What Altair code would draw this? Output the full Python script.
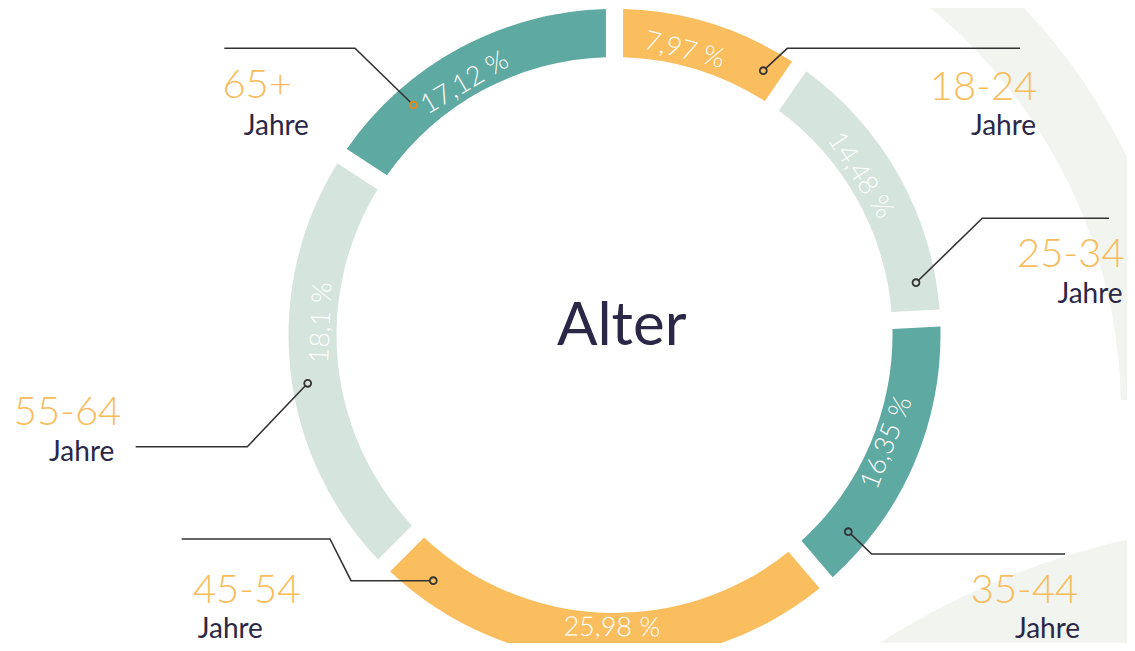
import math
import altair as alt
import pandas as pd

# ---------------- data ----------------
groups = ["18-24", "25-34", "35-44", "45-54", "55-64", "65+"]
pct_labels = ["7,97 %", "14,48 %", "16,35 %", "25,98 %", "18,1 %", "17,12 %"]
pct_values = [7.97, 14.48, 16.35, 25.98, 18.1, 17.12]
# angular extent (degrees) each segment occupies in the drawn ring
arc_share_deg = [34.5, 52.5, 52.5, 85.5, 78.3, 56.7]
# bearing (degrees, clockwise from top) where each percentage label sits
label_bearing = [13.8, 57.0, 111.6, 180.5, 272.4, 329.3]

# leader lines (page pixels): dot -> elbow(s) -> end
leader_x = [[763.3, 787.3, 1020], [916, 982.3, 1109], [848.3, 871.7, 1065],
            [433.3, 351, 330, 181.7], [307.7, 247.3, 135.7], [413.3, 355, 224.3]]
leader_y = [[70.7, 48.3, 48.3], [282.7, 218.3, 218.3], [531.7, 554, 554],
            [580.7, 580.7, 539, 539], [383.3, 446.7, 446.7], [105, 48.3, 48.3]]

# group name (centre x, baseline y) and "Jahre" (centre x, baseline y)
name_x = [983.5, 1070.8, 1024.5, 246.7, 67.5, 257.2]
name_y = [100, 267, 602.7, 603.3, 425, 98.3]
jahre_x = [1003.5, 1090, 1047.5, 230.3, 81.7, 276.3]
jahre_y = [135, 302.7, 638, 638, 460.7, 135]
jahre_text = "Jahre"
center_title = "Alter"

# ---------------- style ----------------
W, H, M = 1119, 635, 8
CX, CY = 614.5 - M, 335 - M
FONT = "Lato"
ORANGE, LIGHT, TEAL = "#FBBE5F", "#D6E4DE", "#5EA9A1"
seg_colors = [ORANGE, LIGHT, TEAL, ORANGE, LIGHT, TEAL]
LABEL_ORANGE = "#F9BC5C"
NAVY = "#2A2747"
LINE = "#333333"
BG_BAND = "#F1F4EF"

xs = alt.Scale(domain=[M, M + W], range=[0, W], nice=False, zero=False)
ys = alt.Scale(domain=[M, M + H], range=[0, H], nice=False, zero=False)
theta_scale = alt.Scale(domain=[0, 360], range=[0, 2 * math.pi])
color_scale = alt.Scale(domain=groups, range=seg_colors)

# ---------------- tables ----------------
ring_df = pd.DataFrame({"group": groups, "share": arc_share_deg,
                        "idx": list(range(len(groups))), "value": pct_values})


def readable_rotation(b):
    if b < 90:
        return b
    if b < 225:
        return b - 180
    return b - 360


pct_df = pd.DataFrame({"label": pct_labels, "bearing": label_bearing,
                       "rot": [readable_rotation(b) for b in label_bearing]})

rows = []
for g, lx, ly in zip(groups, leader_x, leader_y):
    for k, (px, py) in enumerate(zip(lx, ly)):
        rows.append({"group": g, "k": k, "px": px, "py": py})
lines_df = pd.DataFrame(rows)

dots_df = pd.DataFrame({"group": groups,
                        "px": [lx[0] for lx in leader_x],
                        "py": [ly[0] for ly in leader_y]})

names_df = pd.DataFrame({"group": groups, "nx": name_x, "ny": name_y,
                         "jx": jahre_x, "jy": jahre_y, "j": [jahre_text] * 6})

one = pd.DataFrame({"t": [center_title]})

# ---------------- layers ----------------
bg1 = alt.Chart(one).mark_arc(theta=0.3, theta2=1.55, radius=585, radius2=521,
                              color=BG_BAND).encode(x=alt.value(600 - M), y=alt.value(411 - M))
bg2 = alt.Chart(one).mark_arc(theta=5.5, theta2=6.25, radius=780, radius2=560,
                              color=BG_BAND).encode(x=alt.value(1300 - M), y=alt.value(1300 - M))

ring = alt.Chart(ring_df).mark_arc(radius=326, radius2=278, padAngle=0.04).encode(
    theta=alt.Theta("share:Q", stack=True, scale=theta_scale),
    color=alt.Color("group:N", scale=color_scale, legend=None),
    order=alt.Order("idx:Q"),
    x=alt.value(CX), y=alt.value(CY),
)

pct = alt.Chart(pct_df).mark_text(font=FONT, fontSize=27, fontWeight=300, color="white",
                                  align="center", baseline="middle").encode(
    text="label:N",
    theta=alt.Theta("bearing:Q", stack=None, scale=theta_scale),
    radius=alt.value(293),
    angle=alt.Angle("rot:Q", scale=None),
    x=alt.value(CX), y=alt.value(CY),
)

lines = alt.Chart(lines_df).mark_line(color=LINE, strokeWidth=1.6).encode(
    x=alt.X("px:Q", scale=xs, axis=None),
    y=alt.Y("py:Q", scale=ys, axis=None),
    detail="group:N",
    order="k:Q",
)

dots = alt.Chart(dots_df).mark_point(shape="circle", size=48, strokeWidth=1.8,
                                     opacity=1, filled=False).encode(
    x=alt.X("px:Q", scale=xs, axis=None),
    y=alt.Y("py:Q", scale=ys, axis=None),
    fill=alt.Fill("group:N", scale=color_scale, legend=None),
    stroke=alt.condition(alt.datum.group == "65+", alt.value("#E8891A"), alt.value(LINE)),
)

names = alt.Chart(names_df).mark_text(font=FONT, fontSize=40, fontWeight=300, color=LABEL_ORANGE,
                                      align="center", baseline="alphabetic").encode(
    x=alt.X("nx:Q", scale=xs, axis=None),
    y=alt.Y("ny:Q", scale=ys, axis=None),
    text="group:N",
)

jahre = alt.Chart(names_df).mark_text(font=FONT, fontSize=28, fontWeight=400, color=NAVY,
                                      align="center", baseline="alphabetic").encode(
    x=alt.X("jx:Q", scale=xs, axis=None),
    y=alt.Y("jy:Q", scale=ys, axis=None),
    text="j:N",
)

title = alt.Chart(one).mark_text(font=FONT, fontSize=60, fontWeight=400, color=NAVY,
                                 align="center", baseline="alphabetic").encode(
    text="t:N", x=alt.value(621.7 - M), y=alt.value(345 - M),
)

chart = alt.layer(bg1, bg2, ring, pct, lines, dots, names, jahre, title).properties(
    width=W, height=H, padding=0, autosize=alt.AutoSizeParams(type="none"),
    background="white",
).configure_view(stroke=None)

chart.save("out.html", embed_options={"renderer": "svg", "actions": False})
